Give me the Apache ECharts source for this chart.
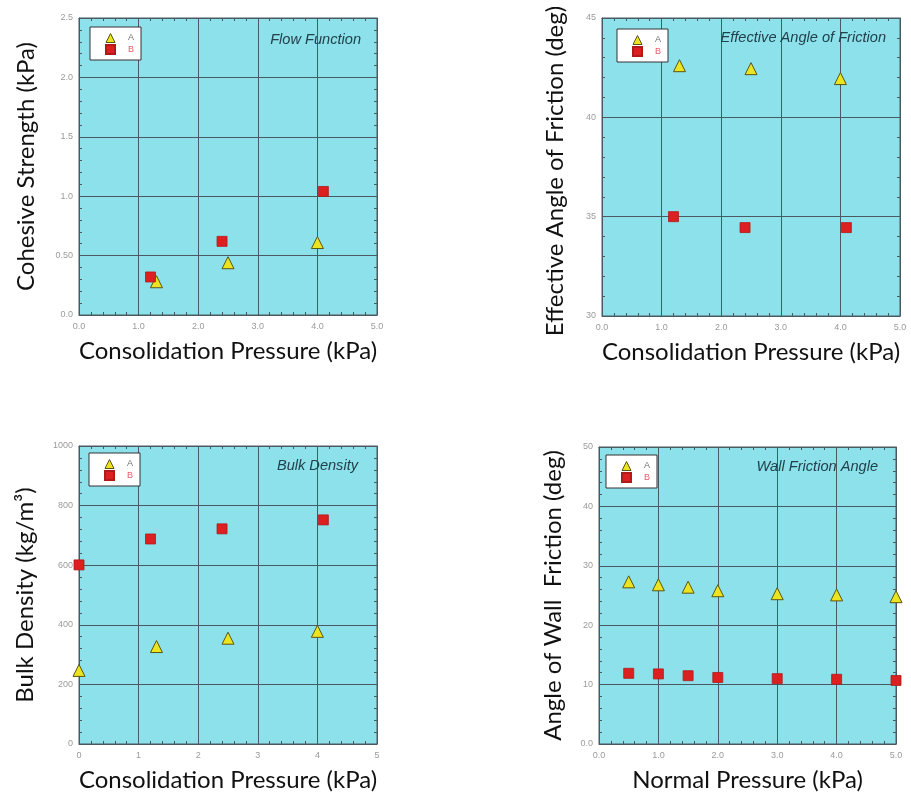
<!DOCTYPE html>
<html>
<head>
<meta charset="utf-8">
<script src="https://cdn.jsdelivr.net/npm/echarts@6/dist/echarts.min.js"></script>
<style>
html,body{margin:0;padding:0;background:#fff;}
#chart{width:911px;height:800px;}
</style>
</head>
<body>
<div id="chart"></div>
<script>
// ---- Data ----
// Panel 1: Flow Function
const flowAX = [1.3, 2.5, 4.0];
const flowAY = [0.28, 0.44, 0.61];
const flowBX = [1.2, 2.4, 4.1];
const flowBY = [0.32, 0.62, 1.04];
// Panel 2: Effective Angle of Friction
const angleAX = [1.3, 2.5, 4.0];
const angleAY = [42.6, 42.45, 41.95];
const angleBX = [1.2, 2.4, 4.1];
const angleBY = [35.0, 34.45, 34.45];
// Panel 3: Bulk Density
const densAX = [0, 1.3, 2.5, 4.0];
const densAY = [247, 327, 355, 378];
const densBX = [0, 1.2, 2.4, 4.1];
const densBY = [601, 688, 722, 752];
// Panel 4: Wall Friction Angle
const wallX = [0.5, 1.0, 1.5, 2.0, 3.0, 4.0, 5.0];
const wallAY = [27.3, 26.8, 26.4, 25.8, 25.3, 25.1, 24.8];
const wallBY = [11.9, 11.8, 11.5, 11.2, 11.0, 10.9, 10.7];

// Tick labels
const xTicksDec = ['0.0', '1.0', '2.0', '3.0', '4.0', '5.0'];
const xTicksInt = ['0', '1', '2', '3', '4', '5'];
const yTicksFlow = ['0.0', '0.50', '1.0', '1.5', '2.0', '2.5'];
const yTicksAngle = ['30', '35', '40', '45'];
const yTicksDens = ['0', '200', '400', '600', '800', '1000'];
const yTicksWall = ['0.0', '10', '20', '30', '40', '50'];

// Text
const panelTitles = ['Flow Function', 'Effective Angle of Friction', 'Bulk Density', 'Wall Friction Angle'];
const xNames = ['Consolidation Pressure (kPa)', 'Consolidation Pressure (kPa)', 'Consolidation Pressure (kPa)', 'Normal Pressure (kPa)'];
const yNames = ['Cohesive Strength (kPa)', 'Effective Angle of Friction (deg)', 'Bulk Density (kg/m\u00B3)', 'Angle of Wall  Friction (deg)'];
const seriesNames = ['A', 'B'];

// ---- Layout / style ----
const grids = [
  {left: 79, top: 18, width: 298, height: 297},
  {left: 602, top: 18, width: 298, height: 298},
  {left: 79, top: 446, width: 298, height: 298},
  {left: 599, top: 447, width: 297, height: 297}
];
const xCfg = [
  {min: 0, max: 5, interval: 1, labels: xTicksDec},
  {min: 0, max: 5, interval: 1, labels: xTicksDec},
  {min: 0, max: 5, interval: 1, labels: xTicksInt},
  {min: 0, max: 5, interval: 1, labels: xTicksDec}
];
const yCfg = [
  {min: 0, max: 2.5, interval: 0.5, labels: yTicksFlow},
  {min: 30, max: 45, interval: 5, labels: yTicksAngle},
  {min: 0, max: 1000, interval: 200, labels: yTicksDens},
  {min: 0, max: 50, interval: 10, labels: yTicksWall}
];
const yNameGap = [41, 35, 42, 34];
const yNamePad = [[0, 0, 0, 0], [0, 8, 0, 0], [0, 0, 0, 0], [0, 0, 0, 0]];
const legendPos = [
  {left: 90, top: 27}, {left: 617, top: 29}, {left: 89, top: 453}, {left: 606, top: 455}
];
const titlePos = [
  {right: 550, top: 32}, {right: 25, top: 30}, {right: 553, top: 458}, {right: 33, top: 459}
];

const FONT = 'Lato, "Open Sans", sans-serif';
const lineCol = '#4a5a62';
const fmt = (cfg) => (v) => {
  const i = Math.round((v - cfg.min) / cfg.interval);
  return cfg.labels[i] !== undefined ? cfg.labels[i] : '';
};

const xAxis = [], yAxis = [], series = [], legend = [], title = [];
const pairs = [
  [[flowAX, flowAY], [flowBX, flowBY]],
  [[angleAX, angleAY], [angleBX, angleBY]],
  [[densAX, densAY], [densBX, densBY]],
  [[wallX, wallAY], [wallX, wallBY]]
];
const zip = (xs, ys) => xs.map((x, i) => [x, ys[i]]);

grids.forEach((g, i) => {
  const xc = xCfg[i], yc = yCfg[i];
  const common = {
    axisLine: {show: true, onZero: false, lineStyle: {color: lineCol, width: 1}},
    axisTick: {show: true, inside: true, length: 5, lineStyle: {color: lineCol}},
    minorTick: {show: true, splitNumber: 5, length: 3, lineStyle: {color: lineCol}},
  };
  xAxis.push(Object.assign({
    type: 'value', gridIndex: i, position: 'bottom', min: xc.min, max: xc.max, interval: xc.interval,
    name: xNames[i], nameLocation: 'middle', nameGap: 24,
    nameTextStyle: {fontFamily: FONT, fontSize: 24, color: '#111'},
    axisLabel: {formatter: fmt(xc), color: '#9a9a9a', fontSize: 9, fontFamily: 'Arial, "Liberation Sans"', margin: 7},
    splitLine: {show: true, lineStyle: {color: lineCol, width: 1}}
  }, common));
  xAxis.push(Object.assign({
    type: 'value', gridIndex: i, position: 'top', min: xc.min, max: xc.max, interval: xc.interval,
    axisLabel: {show: false}, splitLine: {show: false}
  }, common));
  yAxis.push(Object.assign({
    type: 'value', gridIndex: i, position: 'left', min: yc.min, max: yc.max, interval: yc.interval,
    name: yNames[i], nameLocation: 'middle', nameGap: yNameGap[i],
    nameTextStyle: {fontFamily: FONT, fontSize: 24, color: '#111', padding: yNamePad[i]},
    axisLabel: {formatter: fmt(yc), color: '#9a9a9a', fontSize: 9, fontFamily: 'Arial, "Liberation Sans"', margin: 6},
    splitLine: {show: true, lineStyle: {color: lineCol, width: 1}}
  }, common));
  yAxis.push(Object.assign({
    type: 'value', gridIndex: i, position: 'right', min: yc.min, max: yc.max, interval: yc.interval,
    axisLabel: {show: false}, splitLine: {show: false}
  }, common));

  series.push({
    type: 'scatter', name: seriesNames[0], xAxisIndex: 2 * i, yAxisIndex: 2 * i,
    data: zip(pairs[i][0][0], pairs[i][0][1]), symbol: 'triangle', symbolSize: 12, z: 3,
    itemStyle: {color: '#ebe41e', borderColor: '#5a5514', borderWidth: 1, opacity: 1}
  });
  series.push({
    type: 'scatter', name: seriesNames[1], xAxisIndex: 2 * i, yAxisIndex: 2 * i,
    data: zip(pairs[i][1][0], pairs[i][1][1]), symbol: 'rect', symbolSize: 10, z: 3,
    itemStyle: {color: '#dc1f1f', borderColor: '#b01a1a', borderWidth: 0.8, opacity: 1}
  });

  legend.push({
    left: legendPos[i].left, top: legendPos[i].top, orient: 'vertical', selectedMode: false,
    backgroundColor: '#ffffff', borderColor: '#333', borderWidth: 1,
    padding: [6, 7, 5, 15], itemGap: 1, itemWidth: 9, itemHeight: 9,
    textStyle: {fontSize: 9, fontFamily: 'Arial, "Liberation Sans"', padding: [0, 0, 0, 8]},
    data: [
      {name: seriesNames[0], icon: 'triangle', itemStyle: {borderWidth: 1, borderColor: '#5a5514'}, textStyle: {color: '#707070'}},
      {name: seriesNames[1], icon: 'rect', textStyle: {color: '#e85a6a'}}
    ]
  });

  title.push({
    text: panelTitles[i], right: titlePos[i].right, top: titlePos[i].top, padding: 0,
    textStyle: {fontFamily: 'Arial, "Liberation Sans"', fontStyle: 'italic', fontWeight: 'normal', fontSize: 14.6, color: '#21414c'}
  });
});

const chart = echarts.init(document.getElementById('chart'), null, {renderer: 'canvas'});
chart.setOption({
  animation: false,
  backgroundColor: '#ffffff',
  title: title,
  legend: legend,
  grid: grids.map(g => Object.assign({show: true, backgroundColor: '#8de1eb', borderColor: lineCol, borderWidth: 1, containLabel: false}, g)),
  xAxis: xAxis,
  yAxis: yAxis,
  series: series
});
</script>
</body>
</html>
